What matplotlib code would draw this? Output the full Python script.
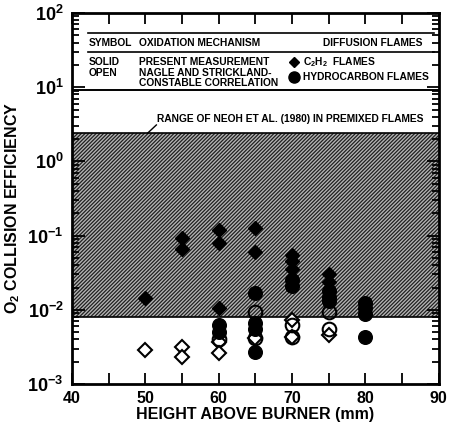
import math
import matplotlib
matplotlib.use("Agg")
import matplotlib.pyplot as plt
from matplotlib.ticker import FixedLocator, LogLocator, NullFormatter, FuncFormatter

plt.rcParams['font.family'] = ['Liberation Sans', 'DejaVu Sans']
plt.rcParams['font.weight'] = 'bold'
plt.rcParams['mathtext.fontset'] = 'custom'
plt.rcParams['mathtext.rm'] = 'Liberation Sans:bold'
plt.rcParams['mathtext.bf'] = 'Liberation Sans:bold'
plt.rcParams['mathtext.it'] = 'Liberation Sans:bold'
plt.rcParams['hatch.linewidth'] = 0.9

# ---- data ----
# present measurement, C2H2 flames (solid diamonds)
c2h2_meas_x = [50, 55, 55, 60, 60, 60, 65, 65, 70, 70, 70, 75, 75]
c2h2_meas_y = [0.0145, 0.092, 0.066, 0.12, 0.08, 0.0105, 0.125, 0.06, 0.055, 0.045, 0.036, 0.030, 0.024]
# present measurement, hydrocarbon flames (solid circles)
hc_meas_x = [60, 60, 65, 65, 65, 65, 70, 70, 75, 75, 75, 80, 80, 80, 80]
hc_meas_y = [0.0062, 0.0050, 0.017, 0.0066, 0.0055, 0.0027, 0.025, 0.021, 0.018, 0.015, 0.013, 0.0122, 0.0105, 0.0088, 0.0043]
# Nagle & Strickland-Constable correlation, C2H2 (open diamonds)
c2h2_nsc_x = [50, 55, 55, 60, 60, 65, 70, 70, 75]
c2h2_nsc_y = [0.0029, 0.0032, 0.0023, 0.0037, 0.0026, 0.0042, 0.0072, 0.0043, 0.0046]
# Nagle & Strickland-Constable correlation, hydrocarbon (open circles)
hc_nsc_x = [60, 65, 65, 70, 70, 75, 75]
hc_nsc_y = [0.0040, 0.0094, 0.0042, 0.0062, 0.0043, 0.0094, 0.0056]
# range of Neoh et al. (1980)
neoh_low, neoh_high = 0.008, 2.4

fig = plt.figure(figsize=(4.5, 4.33), dpi=100)
ax = fig.add_axes([0.16, 0.113, 0.815, 0.857])
ax.set_xlim(40, 90)
ax.set_yscale('log')
ax.set_ylim(1e-3, 1e2)

ax.fill_between([40, 90], [neoh_low] * 2, [neoh_high] * 2, facecolor='#b4b4b4',
                edgecolor='#202020', hatch='/' * 9, linewidth=0, zorder=1)
ax.axhline(neoh_low, color='black', lw=1.2, zorder=2)
ax.axhline(neoh_high, color='black', lw=1.2, zorder=2)

ms_d = 7.0
ms_o = 9.8
ax.plot(c2h2_nsc_x, c2h2_nsc_y, 'D', ms=ms_d, mfc='white', mec='black', mew=1.5, ls='none', zorder=3)
ax.plot(hc_nsc_x, hc_nsc_y, 'o', ms=ms_o, mfc='none', mec='black', mew=1.5, ls='none', zorder=3)
ax.plot(c2h2_meas_x, c2h2_meas_y, 'D', ms=ms_d, mfc='black', mec='black', ls='none', zorder=4)
ax.plot(hc_meas_x, hc_meas_y, 'o', ms=ms_o, mfc='black', mec='black', ls='none', zorder=4)

# annotation for shaded range
ax.text(51.6, 3.7, 'RANGE OF NEOH ET AL. (1980) IN PREMIXED FLAMES', fontsize=7.4,
        fontweight='bold', va='center', ha='left', zorder=5)
ax.plot([51.5, 50.3], [3.1, neoh_high], color='black', lw=1.0, zorder=5)

# legend table
ax.plot([42.2, 89.3], [54, 54], color='black', lw=1.2)
ax.plot([42.2, 89.3], [29.6, 29.6], color='black', lw=1.2)
ax.axhline(9.1, color='black', lw=1.4)
fs = 7.4
ax.text(42.3, 40, 'SYMBOL', fontsize=fs, va='center')
ax.text(49.2, 40, 'OXIDATION MECHANISM', fontsize=fs, va='center')
ax.text(74.2, 40, 'DIFFUSION FLAMES', fontsize=fs, va='center')
ax.text(42.3, 22.0, 'SOLID', fontsize=fs, va='center')
ax.text(42.3, 15.5, 'OPEN', fontsize=fs, va='center')
ax.text(49.2, 22.0, 'PRESENT MEASUREMENT', fontsize=fs, va='center')
ax.text(49.2, 15.5, 'NAGLE AND STRICKLAND-', fontsize=fs, va='center')
ax.text(49.2, 11.3, 'CONSTABLE CORRELATION', fontsize=fs, va='center')
ax.plot([70.2], [22.0], 'D', ms=5, color='black')
ax.plot([70.2], [13.8], 'o', ms=8, color='black')
ax.text(71.5, 22.0, r'C$_2$H$_2$  FLAMES', fontsize=fs, va='center')
ax.text(71.5, 13.8, 'HYDROCARBON FLAMES', fontsize=fs, va='center')

# ticks
ax.xaxis.set_major_locator(FixedLocator([40, 50, 60, 70, 80, 90]))
ax.xaxis.set_minor_locator(FixedLocator([45, 55, 65, 75, 85]))
ax.yaxis.set_major_locator(LogLocator(base=10, numticks=10))
ax.yaxis.set_minor_locator(LogLocator(base=10, subs=range(2, 10), numticks=20))
ax.yaxis.set_minor_formatter(NullFormatter())
ax.yaxis.set_major_formatter(FuncFormatter(lambda v, p: r'$10^{%d}$' % round(math.log10(v))))
ax.tick_params(axis='both', which='both', direction='in', top=True, right=True, width=1.3)
ax.tick_params(axis='x', which='both', length=8, labelsize=11.5, pad=5)
ax.tick_params(axis='y', which='major', length=9, labelsize=13, pad=6)
ax.tick_params(axis='y', which='minor', length=5)
for lab in ax.get_xticklabels():
    lab.set_fontweight('bold')
for s in ax.spines.values():
    s.set_linewidth(2)

ax.set_xlabel('HEIGHT ABOVE BURNER (mm)', fontsize=11.5, fontweight='bold', labelpad=1)
ax.set_ylabel(r'O$_2$ COLLISION EFFICIENCY', fontsize=11.5, fontweight='bold')
ax.yaxis.set_label_coords(-0.135, 0.475)

fig.savefig('out.png', dpi=100)
